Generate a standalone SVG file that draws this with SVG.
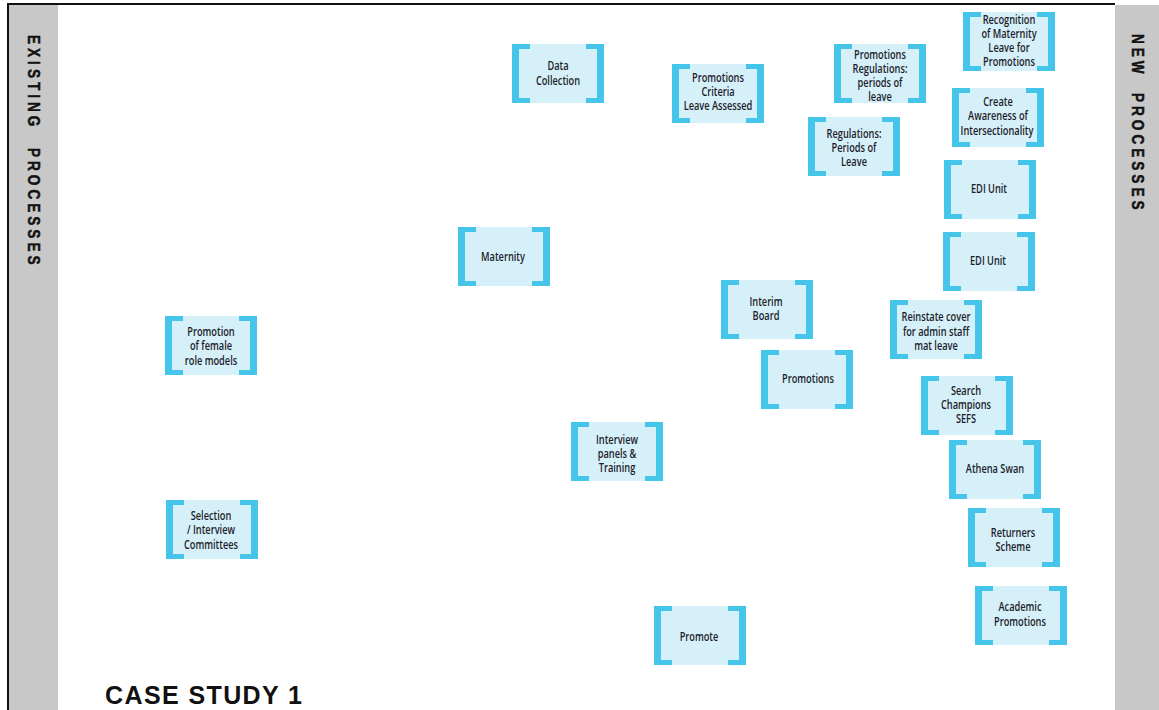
<svg xmlns="http://www.w3.org/2000/svg" xmlns:xlink="http://www.w3.org/1999/xlink" width="1159" height="710" viewBox="0 0 1159 710">
<style>
.lbl{font-family:"Open Sans","Liberation Sans",sans-serif;font-weight:600;font-size:12px;fill:#1c1c2a;text-anchor:middle}
.side{font-family:"Liberation Sans",Arial,sans-serif;font-weight:bold;font-size:17px;fill:#111;stroke:#111;stroke-width:0.5px;letter-spacing:5px}
.title{font-family:"Liberation Sans",Arial,sans-serif;font-weight:bold;font-size:25px;fill:#111;letter-spacing:1.4px}
.bg{fill:#d6f0f9}
.br{fill:#45c5ea}
</style>
<defs>
<g id="box">
<rect class="bg" x="0" y="0" width="92" height="59"/>
<path class="br" d="M0,0H18V5H7V54H18V59H0Z"/>
<path class="br" d="M92,0H74V5H85V54H74V59H92Z"/>
</g>
</defs>
<rect x="0" y="0" width="1159" height="710" fill="#fff"/>
<g id="frame">
<rect x="8" y="5" width="50" height="705" fill="#c8c8c8"/>
<rect x="1115" y="5" width="44" height="705" fill="#c8c8c8"/>
<line x1="8" y1="4" x2="1115" y2="4" stroke="#111" stroke-width="2"/>
<line x1="8" y1="3" x2="8" y2="710" stroke="#111" stroke-width="2"/>
<text class="side" transform="translate(28,35) rotate(90) scale(0.8,1)">EXISTING</text>
<text class="side" transform="translate(28,148) rotate(90) scale(0.8,1)">PROCESSES</text>
<text class="side" transform="translate(1132,34) rotate(90) scale(0.8,1)">NEW</text>
<text class="side" transform="translate(1132,93) rotate(90) scale(0.8,1)">PROCESSES</text>
<text class="title" x="105" y="704">CASE STUDY 1</text>
</g>
<g id="connectors"></g>
<g id="n-data-collection"><use xlink:href="#box" x="512" y="44"/><text class="lbl" transform="translate(558,70) scale(0.77,1)">Data</text><text class="lbl" transform="translate(558,85) scale(0.77,1)">Collection</text></g>
<g id="n-promo-criteria"><use xlink:href="#box" x="672" y="64"/><text class="lbl" transform="translate(718,82) scale(0.77,1)">Promotions</text><text class="lbl" transform="translate(718,96) scale(0.77,1)">Criteria</text><text class="lbl" transform="translate(718,110) scale(0.77,1)">Leave Assessed</text></g>
<g id="n-promo-regs"><use xlink:href="#box" x="834" y="44"/><text class="lbl" transform="translate(880,59) scale(0.77,1)">Promotions</text><text class="lbl" transform="translate(880,73) scale(0.77,1)">Regulations:</text><text class="lbl" transform="translate(880,87) scale(0.77,1)">periods of</text><text class="lbl" transform="translate(880,101) scale(0.77,1)">leave</text></g>
<g id="n-regs-leave"><use xlink:href="#box" x="808" y="117"/><text class="lbl" transform="translate(854,138) scale(0.77,1)">Regulations:</text><text class="lbl" transform="translate(854,152) scale(0.77,1)">Periods of</text><text class="lbl" transform="translate(854,166) scale(0.77,1)">Leave</text></g>
<g id="n-recognition"><use xlink:href="#box" x="963" y="12"/><text class="lbl" transform="translate(1009,24) scale(0.77,1)">Recognition</text><text class="lbl" transform="translate(1009,38) scale(0.77,1)">of Maternity</text><text class="lbl" transform="translate(1009,52) scale(0.77,1)">Leave for</text><text class="lbl" transform="translate(1009,66) scale(0.77,1)">Promotions</text></g>
<g id="n-awareness"><use xlink:href="#box" x="952" y="88"/><text class="lbl" transform="translate(998,106) scale(0.77,1)">Create</text><text class="lbl" transform="translate(998,120) scale(0.77,1)">Awareness of</text><text class="lbl" transform="translate(997,135) scale(0.77,1)">Intersectionality</text></g>
<g id="n-edi-1"><use xlink:href="#box" x="944" y="160"/><text class="lbl" transform="translate(989,193) scale(0.77,1)">EDI Unit</text></g>
<g id="n-edi-2"><use xlink:href="#box" x="943" y="232"/><text class="lbl" transform="translate(988,265) scale(0.77,1)">EDI Unit</text></g>
<g id="n-maternity"><use xlink:href="#box" x="458" y="227"/><text class="lbl" transform="translate(503,261) scale(0.77,1)">Maternity</text></g>
<g id="n-interim"><use xlink:href="#box" x="721" y="280"/><text class="lbl" transform="translate(766,306) scale(0.77,1)">Interim</text><text class="lbl" transform="translate(766,320) scale(0.77,1)">Board</text></g>
<g id="n-reinstate"><use xlink:href="#box" x="890" y="300"/><text class="lbl" transform="translate(936,321) scale(0.77,1)">Reinstate cover</text><text class="lbl" transform="translate(936,336) scale(0.77,1)">for admin staff</text><text class="lbl" transform="translate(936,350) scale(0.77,1)">mat leave</text></g>
<g id="n-female-role"><use xlink:href="#box" x="165" y="316"/><text class="lbl" transform="translate(211,336) scale(0.77,1)">Promotion</text><text class="lbl" transform="translate(211,350) scale(0.77,1)">of female</text><text class="lbl" transform="translate(211,365) scale(0.77,1)">role models</text></g>
<g id="n-promotions"><use xlink:href="#box" x="761" y="350"/><text class="lbl" transform="translate(808,383) scale(0.77,1)">Promotions</text></g>
<g id="n-search"><use xlink:href="#box" x="921" y="376"/><text class="lbl" transform="translate(966,395) scale(0.77,1)">Search</text><text class="lbl" transform="translate(966,409) scale(0.77,1)">Champions</text><text class="lbl" transform="translate(966,423) scale(0.77,1)">SEFS</text></g>
<g id="n-interview"><use xlink:href="#box" x="571" y="422"/><text class="lbl" transform="translate(617,444) scale(0.77,1)">Interview</text><text class="lbl" transform="translate(617,458) scale(0.77,1)">panels &amp;</text><text class="lbl" transform="translate(617,472) scale(0.77,1)">Training</text></g>
<g id="n-athena"><use xlink:href="#box" x="949" y="440"/><text class="lbl" transform="translate(995,473) scale(0.77,1)">Athena Swan</text></g>
<g id="n-selection"><use xlink:href="#box" x="166" y="500"/><text class="lbl" transform="translate(211,520) scale(0.77,1)">Selection</text><text class="lbl" transform="translate(211,534) scale(0.77,1)">/ Interview</text><text class="lbl" transform="translate(211,549) scale(0.77,1)">Committees</text></g>
<g id="n-returners"><use xlink:href="#box" x="968" y="508"/><text class="lbl" transform="translate(1013,537) scale(0.77,1)">Returners</text><text class="lbl" transform="translate(1013,551) scale(0.77,1)">Scheme</text></g>
<g id="n-academic"><use xlink:href="#box" x="975" y="586"/><text class="lbl" transform="translate(1020,611) scale(0.77,1)">Academic</text><text class="lbl" transform="translate(1020,626) scale(0.77,1)">Promotions</text></g>
<g id="n-promote"><use xlink:href="#box" x="654" y="606"/><text class="lbl" transform="translate(699,641) scale(0.77,1)">Promote</text></g>
</svg>
